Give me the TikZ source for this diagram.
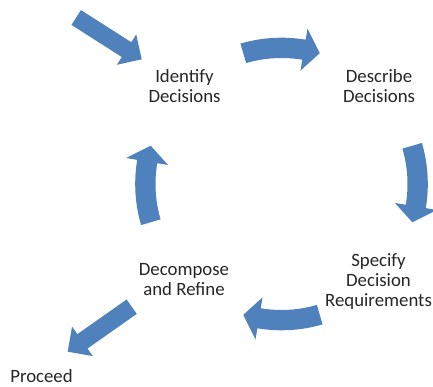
\documentclass[tikz,border=0pt]{standalone}
\usepackage{fontspec}
\setmainfont{Carlito}
\usetikzlibrary{calc}
\definecolor{blockblue}{HTML}{4F81BD}
\definecolor{txtgray}{HTML}{262626}
\newcommand\straightblock[2]{%
  \coordinate (#1-b) at ($(#2)!18pt!(#1)$);
  \fill[blockblue] ($(#1)!8.8pt!90:(#2)$) -- ($(#1-b)!8.8pt!90:(#2)$) -- ($(#1-b)!18pt!90:(#2)$) -- (#2) -- ($(#1-b)!18pt!-90:(#2)$) -- ($(#1-b)!8.8pt!-90:(#2)$) -- ($(#1)!8.8pt!-90:(#2)$) -- cycle;}
\begin{document}
\begin{tikzpicture}[x=1pt,y=1pt,
  lbl/.style={align=center,inner sep=0pt,text=txtgray,font=\fontsize{18.8pt}{20pt}\selectfont}]
\fill[white] (0,0) rectangle (433,387);
\useasboundingbox (0,0) rectangle (433,387);
% labels
\node[lbl] (identify) at (184.5,301) {Identify\\Decisions};
\node[lbl] (describe) at (379,301) {Describe\\Decisions};
\node[lbl] (specify) at (378.5,105) {Specify\\Decision\\Requirements};
\node[lbl] (decompose) at (184,107) {Decompose\\and Refine};
\node[inner sep=0pt,text=txtgray,font=\fontsize{18.8pt}{20pt}\selectfont,text depth=0pt,anchor=base] (proceed) at (41.5,4) {Proceed};
% cycle centre
\coordinate (c) at (281.5,203);
% curved block arrows
\foreach \b in {90,0,-90,180} {
  \fill[blockblue] ($(c)+(\b+16.3:146.3pt)$) arc[start angle=\b+16.3, end angle=\b-9.5, radius=146.3pt]
    -- ($(c)+(\b-9.5:157.5pt)$) -- ($(c)+(\b-16.3:136.3pt)$) -- ($(c)+(\b-9.5:115pt)$)
    -- ($(c)+(\b-9.5:126pt)$) arc[start angle=\b-9.5, end angle=\b+16.3, radius=126pt] -- cycle;
}
% straight block arrows
\coordinate (inT) at (76.2,369.5);
\coordinate (inP) at (141.7,327.7);
\straightblock{inT}{inP}
\coordinate (outT) at (131.7,80.3);
\coordinate (outP) at (67.7,35.3);
\straightblock{outT}{outP}
\end{tikzpicture}
\end{document}
